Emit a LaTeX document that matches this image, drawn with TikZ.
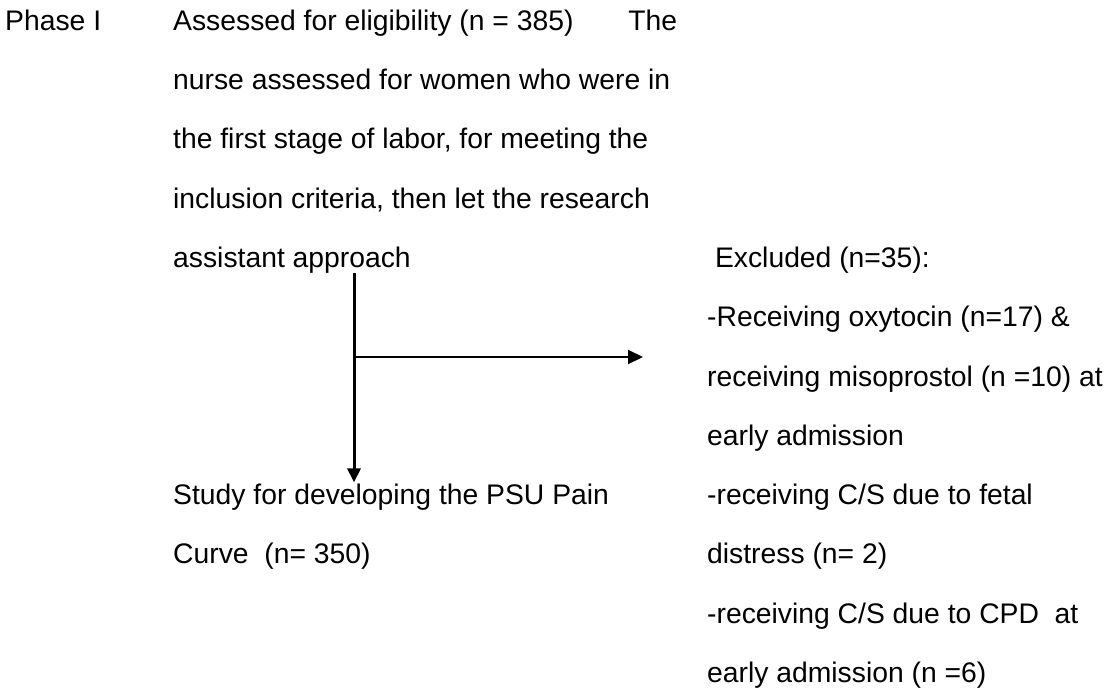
\documentclass[tikz,border=0pt]{standalone}
\usepackage{fontspec}
\setmainfont{Liberation Sans}
\usetikzlibrary{positioning,arrows.meta}
\begin{document}
\begin{tikzpicture}[x=1pt,y=-1pt,line join=round,
                   testo/.style={anchor=north west,inner sep=0pt,align=left,
                     font=\fontsize{28.3}{59.3}\selectfont},
                   freccia/.style={line width=3pt,-{Triangle[length=14pt,width=13pt]}},
                   frecciaLato/.style={line width=2pt,-{Triangle[length=15pt,width=14pt]}}]
  \newcommand{\alto}{\rule{0pt}{22pt}}
  \useasboundingbox (0,0) rectangle (1119,690);

  % Colonna di sinistra: fase e valutazione iniziale.
  \node[testo] (fase) at (5,8) {\alto Phase I};
  \node[testo] (valutati) at (173,8)
    {\alto Assessed for eligibility (n = 385)\hspace{55pt}The\\
     nurse assessed for women who were in\\
     the first stage of labor, for meeting the\\
     inclusion criteria, then let the research\\
     assistant approach};
  \node[testo] (studio) at (173,482.4)
    {\alto Study for developing the PSU Pain\\
     Curve~ (n= 350)};

  % Colonna di destra: le esclusioni.
  \node[testo] (esclusi) at (707,245.2)
    {\alto ~Excluded (n=35):\\
     -Receiving oxytocin (n=17) \&\\
     receiving misoprostol (n =10) at\\
     early admission\\
     -receiving C/S due to fetal\\
     distress (n= 2)\\
     -receiving C/S due to CPD~ at\\
     early admission (n =6)};

  % Frecce: discesa verso lo studio e ramo verso gli esclusi.
  \coordinate (bivio) at (354,357);
  \coordinate (puntaEsclusi) at (643,357);
  \draw[freccia] (valutati.south -| bivio) -- (studio.north -| bivio);
  \draw[frecciaLato] (bivio) -- (puntaEsclusi);
\end{tikzpicture}
\end{document}
